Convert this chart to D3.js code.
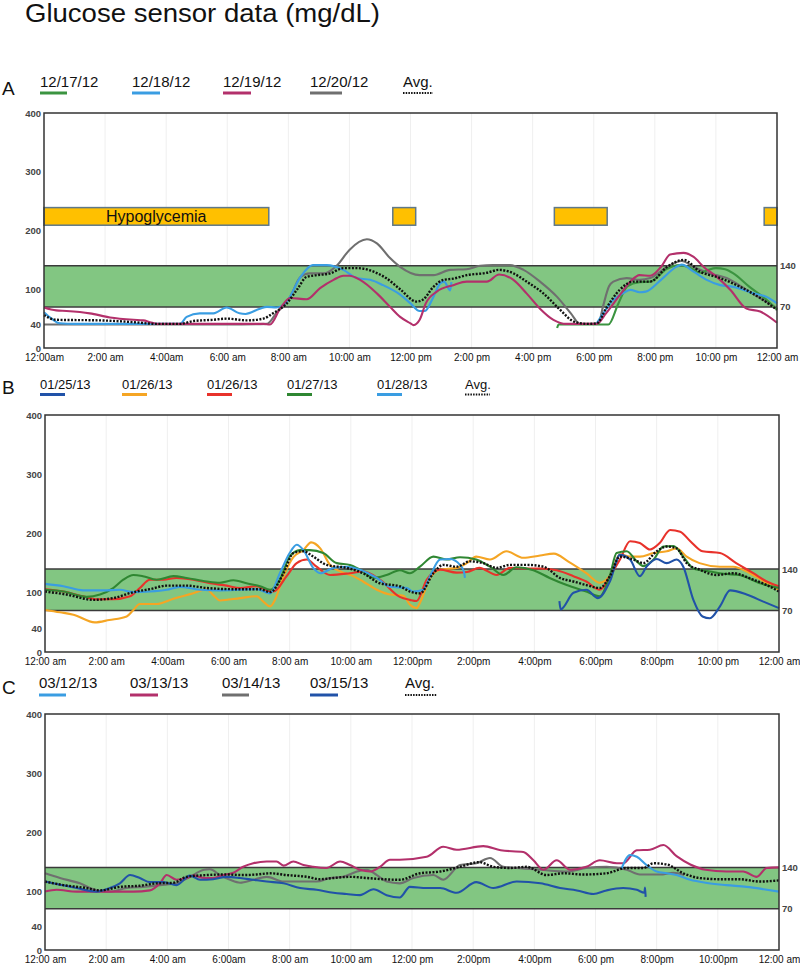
<!DOCTYPE html>
<html><head><meta charset="utf-8">
<script src="https://cdn.jsdelivr.net/npm/d3@7"></script>
<style>body{margin:0;background:#fff} svg{display:block;font-family:"Liberation Sans",Arial,sans-serif}</style>
</head><body><svg id="c" width="800" height="968"></svg>
<script>
// ---------- DATA ----------
const title = "Glucose sensor data (mg/dL)";
const hourTicks = [0,2,4,6,8,10,12,14,16,18,20,22,24];
const yTicksLeft = [0,40,100,200,300,400];
const yTicksRight = [70,140];
const targetRange = [70,140];
const hypoBand = [209,239];

const tickLabelsA = ["12:00am","2:00 am","4:00am","6:00 am","8:00  am","10:00 am","12:00 pm","2:00 pm","4:00 pm","6:00 pm","8:00 pm","10:00 pm","12:00 am"];
const tickLabelsB = ["12:00 am","2:00 am","4:00am","6:00 am","8:00 am","10:00 am","12:00pm","2:00pm","4:00pm","6:00pm","8:00pm","10:00 pm","12:00 am"];
const tickLabelsC = ["12:00 am","2:00 am","4:00 am","6:00am","8:00 am","10:00 am","12:00 pm","2:00pm","4:00pm","6:00 pm","8:00pm","10:00pm","12:00 am"];

const namesA = ["12/17/12","12/18/12","12/19/12","12/20/12","Avg."];
const namesB = ["01/25/13","01/26/13","01/26/13","01/27/13","01/28/13","Avg."];
const namesC = ["03/12/13","03/13/13","03/14/13","03/15/13","Avg."];

const hypoIntervalsA = [[0,7.36],[11.42,12.17],[16.71,18.44],[23.58,24]];
const hypoLabel = "Hypoglycemia";

// Panel A  [hour, mg/dL]
const a_121712 = [[16.8,34],[16.85,40],[17.5,40],[18.0,40],[18.48,40],[18.8,75],[19.1,105],[19.5,112],[19.85,113],[20.4,135],[20.8,141],[21.1,138],[21.5,128],[21.75,133],[22.0,136],[22.3,134],[22.57,127],[23.1,104],[23.66,82],[24,65]];
const a_121812 = [[0,61],[0.25,50],[0.52,42],[1,41],[2,41],[3,41],[4.45,41],[4.67,53],[5.1,59],[5.55,59],[5.98,69],[6.4,59],[6.6,58],[7.07,67],[7.3,70],[7.6,69],[7.95,79],[8.4,121],[8.8,141],[9.26,141],[9.8,133],[10.24,119],[10.68,116],[11.1,107],[11.66,91],[12.0,76],[12.3,63],[12.47,63],[12.75,87],[12.97,110],[13.1,113],[13.3,98],[13.34,112],[13.5,null],[18.1,42],[18.3,58],[18.6,80],[18.95,93],[19.2,99],[19.5,95],[19.7,96],[20.2,116],[20.7,138],[20.88,142],[21.27,130],[21.7,116],[22.14,107],[22.57,104],[23.23,93],[23.66,87],[24,76]];
const a_121912 = [[0,69],[0.4,64],[0.74,63],[1.5,59],[2.16,52],[2.93,48],[3.25,47],[3.47,44],[3.7,41],[5,41],[6,41],[7.18,41],[7.4,40],[7.73,67],[8.06,85],[8.6,83],[9.04,102],[9.48,116],[9.8,123],[10.0,123],[10.35,116],[10.9,93],[11.33,70],[11.66,53],[12.0,42],[12.1,39],[12.3,48],[12.5,76],[12.86,96],[13.4,107],[13.84,113],[14.5,113],[14.9,125],[15.37,116],[15.8,93],[16.24,67],[16.68,48],[17.1,41],[17.6,41],[18.1,41],[18.4,59],[18.85,90],[19.2,113],[19.5,124],[19.85,123],[20.2,138],[20.5,159],[20.94,162],[21.27,155],[21.6,138],[22.03,121],[22.47,99],[23.0,67],[23.45,62],[24,43]];
const a_122012 = [[0,40],[2,40],[4,40],[6,40],[7.3,41],[7.6,59],[8.06,87],[8.4,121],[8.7,127],[9.15,127],[9.6,141],[10.0,167],[10.57,185],[10.9,178],[11.33,153],[11.66,138],[12.3,124],[12.75,124],[13.3,133],[13.84,134],[14.28,140],[14.7,141],[15.25,141],[15.7,133],[16.24,113],[16.8,87],[17.25,59],[17.55,41],[18.15,41],[18.3,70],[18.5,105],[18.64,113],[19.08,119],[19.5,116],[19.85,119],[20.4,138],[20.88,148],[21.27,138],[21.8,127],[22.35,119],[23.0,99],[23.55,82],[24,68]];
const a_avg = [[0,56],[0.4,48],[1.83,47],[2.93,44],[3.7,41],[4.45,41],[4.9,46],[5.55,48],[5.98,50],[6.64,47],[7.18,50],[7.5,59],[7.95,76],[8.28,99],[8.6,121],[8.93,124],[9.37,127],[9.8,136],[10.24,136],[10.79,130],[11.2,119],[11.66,100],[12.2,79],[12.4,82],[12.75,104],[13.08,116],[13.4,118],[13.84,124],[14.5,128],[14.9,133],[15.37,127],[15.8,113],[16.35,93],[16.9,65],[17.35,45],[17.8,41],[18.1,42],[18.4,67],[18.85,99],[19.3,113],[19.85,113],[20.4,138],[20.94,150],[21.48,130],[22.14,119],[22.8,104],[23.45,85],[24,65]];

// Panel B
const b_012513 = [[16.82,86],[16.86,72],[17.28,100],[17.7,105],[18.08,91],[18.47,119],[18.8,164],[19.13,156],[19.45,128],[19.67,144],[20.0,157],[20.33,150],[20.65,156],[20.87,144],[21.2,88],[21.5,60],[21.74,57],[22.07,77],[22.4,104],[22.94,97],[23.49,85],[24,74]];
const b_012613a = [[0,71],[0.49,67],[0.93,63],[1.63,50],[2.1,54],[2.67,60],[2.89,71],[3.1,81],[3.65,81],[4.2,90],[4.85,99],[5.29,106],[5.5,96],[5.72,87],[6.38,91],[6.92,94],[7.14,85],[7.36,77],[7.52,88],[7.8,128],[8.12,160],[8.45,172],[8.7,185],[9.0,175],[9.32,147],[9.65,136],[10.08,128],[10.4,119],[10.85,105],[11.28,97],[11.72,95],[11.93,80],[12.15,74],[12.26,83],[12.59,125],[12.92,139],[13.46,142],[13.79,150],[14.1,161],[14.55,156],[15.09,170],[15.64,159],[16.19,163],[16.64,166],[17.1,153],[17.7,133],[18.14,117],[18.47,129],[18.8,165],[19.13,161],[19.45,161],[19.9,167],[20.33,170],[20.65,175],[20.98,161],[21.4,150],[22.07,144],[22.5,144],[23.05,133],[23.6,116],[24,105]];
const b_012613b = [[0,106],[0.6,102],[1.25,94],[1.69,89],[2.23,89],[2.78,94],[3.1,108],[3.43,122],[3.87,122],[4.3,125],[4.85,122],[5.4,116],[5.94,112],[6.38,108],[6.92,111],[7.25,104],[7.47,102],[7.9,128],[8.23,150],[8.56,156],[8.88,144],[9.32,130],[9.97,133],[10.4,136],[10.95,122],[11.6,93],[11.93,88],[12.15,86],[12.48,122],[12.92,139],[13.46,134],[13.8,135],[14.2,142],[14.77,130],[15.2,142],[15.75,141],[16.2,141],[16.73,138],[17.28,128],[17.7,119],[18.14,105],[18.47,128],[18.8,156],[19.13,187],[19.45,184],[19.78,173],[20.1,184],[20.44,206],[20.77,203],[21.1,187],[21.5,170],[22.07,167],[22.6,150],[23.16,133],[23.6,119],[24,111]];
const b_012713 = [[0,105],[0.6,102],[1.36,93],[1.8,97],[2.23,108],[2.56,122],[2.89,130],[3.2,128],[3.65,122],[4.2,128],[4.63,125],[5.29,119],[5.72,117],[6.16,121],[6.59,116],[7.03,111],[7.36,105],[7.68,122],[8.0,161],[8.34,172],[8.66,172],[9.1,167],[9.54,150],[9.97,147],[10.3,139],[10.74,125],[11.17,130],[11.6,138],[11.93,133],[12.26,144],[12.7,161],[13.13,156],[13.57,160],[14.1,156],[14.55,144],[14.99,130],[15.42,143],[15.97,138],[16.5,125],[17.06,113],[17.7,102],[18.14,94],[18.47,129],[18.69,167],[19.02,170],[19.35,153],[19.56,145],[19.9,156],[20.22,178],[20.55,179],[20.87,161],[21.2,141],[21.74,136],[22.18,132],[22.7,130],[23.38,116],[24,108]];
const b_012813 = [[0,115],[0.6,111],[1.25,104],[1.9,104],[2.45,105],[2.89,101],[3.43,102],[3.98,105],[4.41,110],[5.07,105],[5.72,104],[6.38,105],[6.92,106],[7.36,99],[7.68,133],[8.0,167],[8.23,181],[8.45,172],[8.77,142],[9.0,133],[9.43,142],[9.86,144],[10.3,139],[10.85,125],[11.28,110],[11.83,108],[12.04,102],[12.37,105],[12.59,128],[12.92,156],[13.24,157],[13.57,147],[13.7,135],[13.73,125]];
const b_avg = [[0,102],[0.7,97],[1.58,88],[2.23,91],[2.89,101],[3.43,106],[3.98,112],[4.63,112],[5.29,108],[6.16,106],[7.03,106],[7.36,101],[7.8,133],[8.12,167],[8.45,170],[8.77,161],[9.21,147],[9.86,142],[10.4,133],[10.95,116],[11.6,111],[11.93,102],[12.26,99],[12.7,133],[13.02,147],[13.46,144],[13.9,153],[14.33,150],[14.77,142],[15.2,147],[15.75,147],[16.3,144],[16.84,125],[17.28,119],[17.7,113],[18.14,108],[18.47,128],[18.8,161],[19.24,156],[19.56,150],[20.0,170],[20.33,178],[20.65,175],[20.98,150],[21.4,139],[21.96,130],[22.5,133],[23.16,122],[23.6,113],[24,102]];

// Panel C
const c_031213 = [[18.85,138],[19.13,161],[19.35,158],[19.67,144],[20.0,133],[20.33,130],[20.65,127],[21.1,119],[21.6,114],[22.28,110],[22.94,107],[23.5,103],[24,99]];
const c_031313 = [[0,99],[0.38,102],[1.03,99],[1.69,99],[2.34,99],[2.89,99],[3.43,101],[3.76,113],[3.98,127],[4.3,119],[4.63,122],[4.85,126],[5.2,122],[5.5,122],[5.83,127],[6.16,131],[6.48,141],[6.81,147],[7.25,150],[7.57,150],[7.8,143],[8.12,150],[8.45,144],[8.77,141],[9.2,139],[9.65,150],[9.97,144],[10.3,136],[10.63,133],[10.95,141],[11.28,153],[11.6,153],[12.48,158],[13.02,175],[13.46,170],[14.33,176],[14.9,169],[15.64,166],[15.97,152],[16.3,136],[16.73,152],[17.17,136],[17.7,141],[18.14,152],[18.7,147],[18.9,147],[19.35,169],[19.78,170],[20.22,178],[20.65,159],[21.1,145],[21.6,136],[22.28,133],[22.83,133],[23.27,124],[23.6,139],[24,140]];
const c_031413 = [[0,130],[0.49,122],[1.14,113],[1.69,101],[2.12,99],[2.67,105],[3.2,107],[3.76,110],[4.3,113],[4.74,124],[5.2,136],[5.39,137],[5.72,127],[6.05,119],[6.38,114],[6.81,119],[7.25,124],[7.8,116],[8.34,116],[8.88,116],[9.32,122],[9.75,124],[10.2,133],[10.52,136],[10.85,127],[11.17,116],[11.6,113],[12.04,122],[12.7,127],[13.02,119],[13.57,144],[14.1,147],[14.55,156],[14.99,141],[15.42,139],[16.2,136],[17.06,133],[17.7,139],[18.36,141],[19.02,136],[19.45,128],[20.11,128],[20.55,131],[20.9,127]];
const c_031513 = [[0,116],[0.38,112],[1.03,105],[1.69,99],[2.12,105],[2.45,113],[2.78,127],[3.1,122],[3.43,115],[3.87,115],[4.3,110],[4.74,126],[5.07,119],[5.5,120],[5.94,124],[6.38,122],[6.81,119],[7.25,116],[7.8,113],[8.34,105],[8.88,102],[9.43,97],[9.86,95],[10.3,93],[10.74,103],[11.17,93],[11.6,89],[11.93,107],[12.48,105],[12.92,105],[13.46,97],[14.1,115],[14.66,105],[15.42,116],[16.2,113],[16.84,105],[17.39,101],[17.93,95],[18.36,101],[18.9,105],[19.35,102],[19.6,97],[19.62,106],[19.64,90]];
const c_avg = [[0,116],[0.6,110],[1.36,105],[1.8,101],[2.45,107],[3.1,109],[3.65,113],[4.2,114],[4.63,124],[5.29,127],[5.94,128],[6.48,127],[6.92,128],[7.36,130],[7.9,127],[8.56,124],[9.0,120],[9.43,122],[9.97,124],[10.52,122],[11.07,120],[11.6,119],[12.26,130],[12.92,133],[13.57,141],[14.2,149],[14.66,141],[15.2,139],[15.75,141],[16.4,127],[16.95,130],[17.6,128],[18.36,130],[19.02,139],[19.56,139],[19.9,147],[20.33,145],[20.87,130],[21.4,122],[22.07,120],[22.7,120],[23.38,116],[24,118]];

// ---------- STYLE / LAYOUT ----------
const C = {green:"#3b9440", lblue:"#3a9de2", magenta:"#b3306b", gray:"#6f6f6f", dblue:"#2152a8", orange:"#f5a524", red:"#e8322b", bgreen:"#2f8732", avg:"#111"};
const panels = [
  {label:"A", labelY:95, top:113, bottom:348, left:44, right:777, legY:87, ulY:93, legFont:15,
   legX:[40,132,223,310,403], ulLen:[27,28,28,32,30], names:namesA, ticks:tickLabelsA,
   series:[a_122012,a_121712,a_121812,a_121912,a_avg],
   colors:[C.gray,C.green,C.lblue,C.magenta,C.avg], legColors:[C.green,C.lblue,C.magenta,C.gray,C.avg], hypo:true},
  {label:"B", labelY:394, top:415, bottom:652, left:45, right:779, legY:389, ulY:394.5, legFont:13,
   legX:[40,122,207,287,377,465], ulLen:[25,25,25,25,25,25], names:namesB, ticks:tickLabelsB,
   series:[b_012613a,b_012613b,b_012713,b_012813,b_012513,b_avg],
   colors:[C.orange,C.red,C.bgreen,C.lblue,C.dblue,C.avg], legColors:[C.dblue,C.orange,C.red,C.bgreen,C.lblue,C.avg], hypo:false},
  {label:"C", labelY:694, top:714, bottom:950, left:45, right:779, legY:688, ulY:695, legFont:15,
   legX:[39,130,222,310,405], ulLen:[27,28,27,28,32], names:namesC, ticks:tickLabelsC,
   series:[c_031413,c_031313,c_031513,c_031213,c_avg],
   colors:[C.gray,C.magenta,C.dblue,C.lblue,C.avg], legColors:[C.lblue,C.magenta,C.gray,C.dblue,C.avg], hypo:false}
];

const svg = d3.select("#c");
svg.append("text").attr("x",25).attr("y",22).attr("font-size",25).attr("fill","#111")
  .attr("textLength",355).attr("lengthAdjust","spacingAndGlyphs").text(title);

panels.forEach(p => {
  const x = d3.scaleLinear().domain([0,24]).range([p.left,p.right]);
  const y = d3.scaleLinear().domain([0,400]).range([p.bottom,p.top]);
  const g = svg.append("g");

  g.append("text").attr("x",2).attr("y",p.labelY).attr("font-size",19).attr("fill","#111").text(p.label);

  p.names.forEach((n,i) => {
    g.append("text").attr("x",p.legX[i]).attr("y",p.legY).attr("font-size",p.legFont).attr("fill","#111").text(n);
    const isAvg = n === "Avg.";
    g.append("line").attr("x1",p.legX[i]).attr("x2",p.legX[i]+p.ulLen[i]).attr("y1",p.ulY).attr("y2",p.ulY)
      .attr("stroke",p.legColors[i]).attr("stroke-width",isAvg?2.2:3)
      .attr("stroke-dasharray",isAvg?"1.5,1.2":null);
  });

  g.selectAll(null).data(hourTicks.slice(1,-1)).join("line")
    .attr("x1",d=>x(d)).attr("x2",d=>x(d)).attr("y1",p.top).attr("y2",p.bottom)
    .attr("stroke","#efefef").attr("stroke-width",1);

  g.append("rect").attr("x",p.left).attr("width",p.right-p.left)
    .attr("y",y(targetRange[1])).attr("height",y(targetRange[0])-y(targetRange[1]))
    .attr("fill","#82c682");
  targetRange.forEach(v => g.append("line").attr("x1",p.left).attr("x2",p.right)
    .attr("y1",y(v)).attr("y2",y(v)).attr("stroke","#3a3a3a").attr("stroke-width",1.5));

  if (p.hypo) {
    hypoIntervalsA.forEach(iv => {
      g.append("rect").attr("x",x(iv[0])).attr("width",x(iv[1])-x(iv[0]))
        .attr("y",y(hypoBand[1])).attr("height",y(hypoBand[0])-y(hypoBand[1]))
        .attr("fill","#ffc000").attr("stroke","#5f7888").attr("stroke-width",1.5);
    });
    g.append("text").attr("x",106).attr("y",y((hypoBand[0]+hypoBand[1])/2)+5.5)
      .attr("font-size",16).attr("fill","#111").text(hypoLabel);
  }

  const line = d3.line().defined(d=>d[1]!=null).x(d=>x(d[0])).y(d=>y(d[1])).curve(d3.curveMonotoneX);
  p.series.forEach((s,i) => {
    const isAvg = p.colors[i] === C.avg;
    g.append("path").datum(s).attr("d",line).attr("fill","none")
      .attr("stroke",p.colors[i]).attr("stroke-width",isAvg?2.4:2.1)
      .attr("stroke-dasharray",isAvg?"2,1.5":null).attr("stroke-linejoin","round");
  });

  g.append("rect").attr("x",p.left).attr("y",p.top).attr("width",p.right-p.left).attr("height",p.bottom-p.top)
    .attr("fill","none").attr("stroke","#333").attr("stroke-width",1.5);

  const ax = d3.axisBottom(x).tickValues(hourTicks).tickSize(0).tickPadding(6)
    .tickFormat((d,i)=>p.ticks[i]);
  const gx = g.append("g").attr("transform",`translate(0,${p.bottom})`).call(ax);
  gx.select(".domain").remove();
  gx.selectAll("text").attr("font-size",10).attr("fill","#111").attr("font-family","Liberation Sans, Arial, sans-serif");

  const ayl = d3.axisLeft(y).tickValues(yTicksLeft).tickSize(0).tickPadding(3);
  const gyl = g.append("g").attr("transform",`translate(${p.left},0)`).call(ayl);
  gyl.select(".domain").remove();
  gyl.selectAll("text").attr("font-size",9.5).attr("font-weight","bold").attr("fill","#444").attr("font-family","Liberation Sans, Arial, sans-serif");

  const ayr = d3.axisRight(y).tickValues(yTicksRight).tickSize(0).tickPadding(3);
  const gyr = g.append("g").attr("transform",`translate(${p.right},0)`).call(ayr);
  gyr.select(".domain").remove();
  gyr.selectAll("text").attr("font-size",9.5).attr("font-weight","bold").attr("fill","#444").attr("font-family","Liberation Sans, Arial, sans-serif");
});
</script></body></html>
